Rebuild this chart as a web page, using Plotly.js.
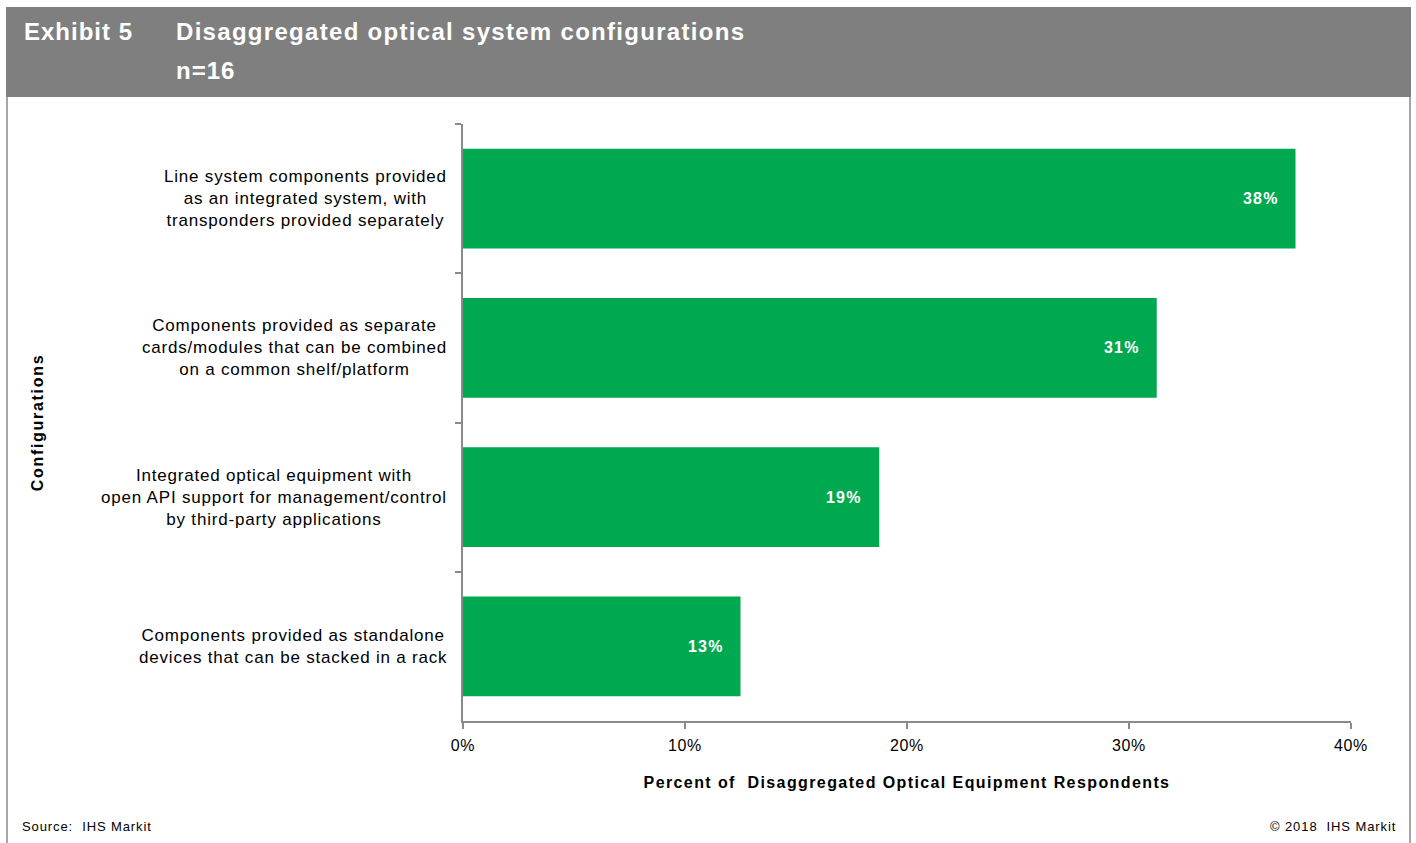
<!DOCTYPE html>
<html>
<head>
<meta charset="utf-8">
<script src="https://cdn.plot.ly/plotly-3.0.1.min.js"></script>
<style>
  html, body { margin: 0; padding: 0; background: #ffffff; }
  #chart { width: 1416px; height: 843px; }
</style>
</head>
<body>
<div id="chart"></div>
<script>
// ---- Data (top-to-bottom order) ----
const categories = [
  "Line system components provided<br>as an integrated system, with<br>transponders provided separately",
  "Components provided as separate<br>cards/modules that can be combined<br>on a common shelf/platform",
  "Integrated optical equipment with<br>open API support for management/control<br>by third-party applications",
  "Components provided as standalone<br>devices that can be stacked in a rack"
];
const values = [37.5, 31.25, 18.75, 12.5];
const valueLabels = ["38%", "31%", "19%", "13%"];
const xTickVals = [0, 10, 20, 30, 40];
const xTickText = ["0%", "10%", "20%", "30%", "40%"];

const headerLabel = "Exhibit 5";
const headerTitle = "Disaggregated optical system configurations";
const headerSub = "n=16";
const xTitle = "Percent of  Disaggregated Optical Equipment Respondents";
const yTitle = "Configurations";
const sourceText = "Source:  IHS Markit";
const copyrightText = "© 2018  IHS Markit";

// ---- Layout geometry ----
const W = 1416, H = 843;
const L = 463, R = 1351, T = 124, B = 721;
const px = X => (X - L) / (R - L);
const py = Y => (B - Y) / (B - T);

const FONT = "Arial, 'Liberation Sans', sans-serif";
const GREEN = "#00a94f";
const AXIS = "#8a8a8a";

// letter-spaced text helper (per line)
const sp = (txt, ls, bold) => txt.split("<br>")
  .map(line => {
    const s = '<span style="letter-spacing:' + ls + 'px">' + line + '</span>';
    return bold ? "<b>" + s + "</b>" : s;
  })
  .join("<br>");

const trace = {
  type: "bar",
  orientation: "h",
  x: values,
  y: categories,
  marker: { color: GREEN, line: { width: 0 } },
  hoverinfo: "x+y"
};

const annotations = [];
// category labels (centered multi-line)
categories.forEach(c => {
  annotations.push({
    xref: "paper", yref: "y", x: px(449), y: c,
    xanchor: "right", yanchor: "middle", align: "center",
    text: sp(c, 0.8, false), showarrow: false,
    font: { family: FONT, size: 17, color: "#000000" }
  });
});
// value labels inside bars
values.forEach((v, i) => {
  annotations.push({
    xref: "x", yref: "y", x: v, y: categories[i],
    xanchor: "right", yanchor: "middle", xshift: -15,
    text: sp(valueLabels[i], 1.2, true), showarrow: false,
    font: { family: FONT, size: 16, color: "#ffffff" }
  });
});
// header
annotations.push(
  { xref: "paper", yref: "paper", x: px(22), y: py(31), xanchor: "left", yanchor: "middle",
    text: sp(headerLabel, 1, true), showarrow: false,
    font: { family: FONT, size: 24, color: "#ffffff" } },
  { xref: "paper", yref: "paper", x: px(174), y: py(31), xanchor: "left", yanchor: "middle",
    text: sp(headerTitle, 1.3, true), showarrow: false,
    font: { family: FONT, size: 24, color: "#ffffff" } },
  { xref: "paper", yref: "paper", x: px(174), y: py(70), xanchor: "left", yanchor: "middle",
    text: sp(headerSub, 1, true), showarrow: false,
    font: { family: FONT, size: 24, color: "#ffffff" } },
  { xref: "paper", yref: "paper", x: px(20), y: py(826), xanchor: "left", yanchor: "middle",
    text: sp(sourceText, 0.9, false), showarrow: false,
    font: { family: FONT, size: 13, color: "#000000" } },
  { xref: "paper", yref: "paper", x: px(1398), y: py(826), xanchor: "right", yanchor: "middle",
    text: sp(copyrightText, 0.9, false), showarrow: false,
    font: { family: FONT, size: 13, color: "#000000" } }
);

const shapes = [
  { type: "rect", xref: "paper", yref: "paper", layer: "below",
    x0: px(6), x1: px(1411), y0: py(97), y1: py(7),
    fillcolor: "#7f7f7f", line: { width: 0 } },
  { type: "line", xref: "paper", yref: "paper", layer: "below",
    x0: px(7), x1: px(7), y0: py(97), y1: py(843),
    line: { color: "#a6a6a6", width: 2 } },
  { type: "line", xref: "paper", yref: "paper", layer: "below",
    x0: px(1410), x1: px(1410), y0: py(97), y1: py(843),
    line: { color: "#a6a6a6", width: 2 } }
];

const layout = {
  width: W, height: H,
  margin: { l: L, r: W - R, t: T, b: H - B, pad: 0 },
  paper_bgcolor: "#ffffff",
  plot_bgcolor: "#ffffff",
  showlegend: false,
  bargap: 0.33,
  font: { family: FONT, size: 16, color: "#000000" },
  xaxis: {
    range: [0, 40],
    tickvals: xTickVals, ticktext: xTickText.map(t => sp(t, 0.6, false)),
    showgrid: false, zeroline: false,
    showline: true, linecolor: AXIS, linewidth: 2,
    ticks: "outside", ticklen: 6, tickcolor: AXIS, tickwidth: 2,
    ticklabelstandoff: 3,
    tickfont: { family: FONT, size: 16, color: "#000000" },
    title: { text: sp(xTitle, 1.4, true), standoff: 24,
             font: { family: FONT, size: 16, color: "#000000" } },
    automargin: false, fixedrange: true
  },
  yaxis: {
    type: "category",
    range: [3.5, -0.5],
    tickson: "boundaries",
    showticklabels: false,
    showgrid: false, zeroline: false,
    showline: true, linecolor: AXIS, linewidth: 2,
    ticks: "outside", ticklen: 6, tickcolor: AXIS, tickwidth: 2,
    title: { text: sp(yTitle, 1.7, true), standoff: 413,
             font: { family: FONT, size: 16, color: "#000000" } },
    automargin: false, fixedrange: true
  },
  annotations: annotations,
  shapes: shapes
};

Plotly.newPlot("chart", [trace], layout, { displayModeBar: false, staticPlot: true });
</script>
</body>
</html>
